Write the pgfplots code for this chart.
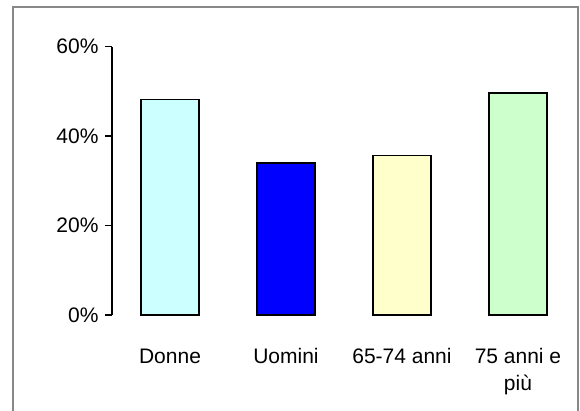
\documentclass[border=0pt]{standalone}
\usepackage{fontspec}
\setmainfont{Liberation Sans}
\usepackage{pgfplots}
\pgfplotsset{compat=1.18}
\definecolor{bordergray}{RGB}{136,136,136}
\definecolor{cDonne}{RGB}{204,255,255}
\definecolor{cUomini}{RGB}{0,0,255}
\definecolor{cGiovani}{RGB}{255,255,204}
\definecolor{cAnziani}{RGB}{204,255,204}
\begin{document}
\begin{tikzpicture}[x=1pt,y=1pt]
\useasboundingbox (0,0) rectangle (580,410);
\fill[white] (0,0) rectangle (580,410);
\draw[bordergray, line width=2pt] (13,-10) -- (13,403) -- (578,403) -- (578,-10);
\begin{axis}[
 at={(112pt,95pt)}, anchor=south west,
 scale only axis, width=464pt, height=268.3pt,
 xmin=-0.5, xmax=3.5, ymin=0, ymax=60,
 axis y line=left, axis x line=bottom,
 x axis line style={draw=none},
 y axis line style={-, line width=1.5pt, black},
 xtick={0,1,2,3},
 xticklabels={Donne,Uomini,65-74 anni,{\begin{tabular}[t]{@{}c@{}}75 anni e\\più\end{tabular}}},
 xtick style={draw=none},
 ytick={0,20,40,60}, yticklabels={0\%,20\%,40\%,60\%},
 ytick style={line width=1.5pt, black},
 tick align=outside, major tick length=7pt,
 ybar, bar width=58pt,
 ticklabel style={font=\fontsize{21}{27}\selectfont},
 xticklabel style={anchor=base, yshift=-41pt},
 yticklabel style={xshift=-3pt},
 clip=false,
]
\addplot[bar shift=0pt, fill=cDonne, draw=black, line width=1.5pt] coordinates {(0,48.2)};
\addplot[bar shift=0pt, fill=cUomini, draw=black, line width=1.5pt] coordinates {(1,34.0)};
\addplot[bar shift=0pt, fill=cGiovani, draw=black, line width=1.5pt] coordinates {(2,35.7)};
\addplot[bar shift=0pt, fill=cAnziani, draw=black, line width=1.5pt] coordinates {(3,49.7)};
\end{axis}
\end{tikzpicture}
\end{document}
